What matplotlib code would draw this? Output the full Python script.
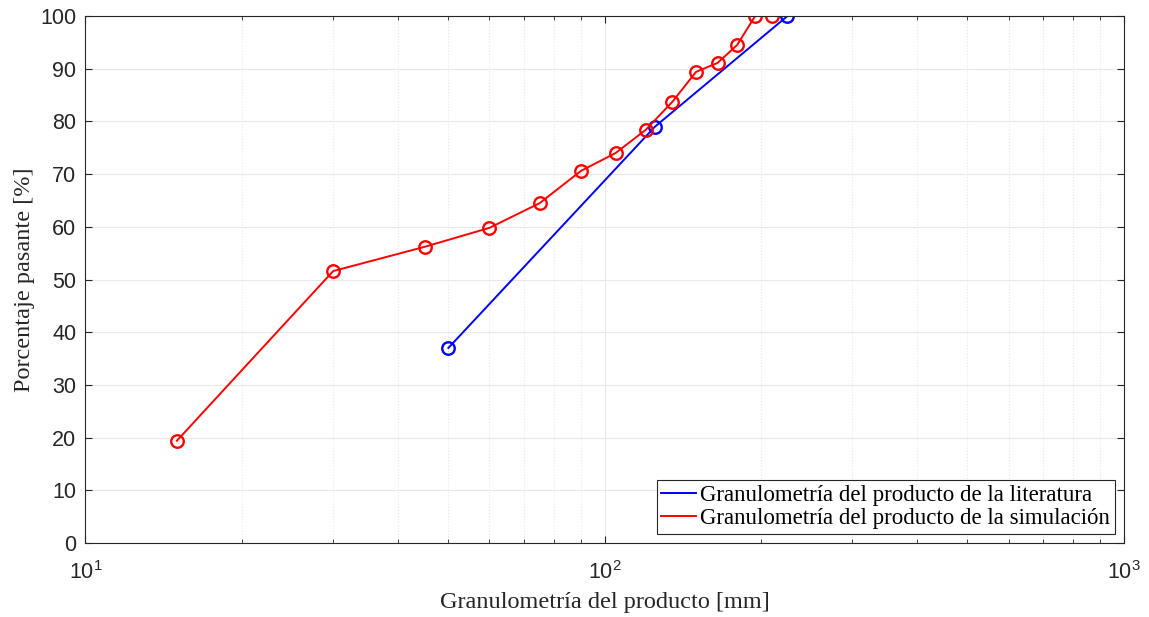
import numpy as np
import matplotlib
matplotlib.use("Agg")
import matplotlib.pyplot as plt
from matplotlib.ticker import LogLocator, NullFormatter, MultipleLocator

# ---------------------------------------------------------------------------
# DATA
# ---------------------------------------------------------------------------
lit_size = [50, 125, 225]          # mm
lit_pass = [37.0, 79.0, 100.0]     # %

sim_size = [15, 30, 45, 60, 75, 90, 105, 120, 135, 150, 165, 180, 195, 210]
sim_pass = [19.4, 51.6, 56.2, 59.8, 64.5, 70.6, 74.0, 78.4, 83.7, 89.4,
            91.1, 94.5, 100.0, 100.0]

LBL_LIT = "Granulometría del producto de la literatura"
LBL_SIM = "Granulometría del producto de la simulación"
SERIF = ["Liberation Serif", "DejaVu Serif"]
SANS = ["Liberation Sans", "DejaVu Sans"]

plt.rcParams["font.family"] = SANS
plt.rcParams["mathtext.fontset"] = "custom"
plt.rcParams["mathtext.rm"] = "Liberation Sans"

fig = plt.figure(figsize=(11.49, 6.17), dpi=100)
ax = fig.add_axes([0.0744, 0.12, 0.9036, 0.854])

ax.plot(lit_size, lit_pass, "-o", color="#0000ff", lw=1.4, ms=9,
        mfc="none", mew=1.7, label=LBL_LIT)
ax.plot(sim_size, sim_pass, "-o", color="#ff0000", lw=1.4, ms=9,
        mfc="none", mew=1.7, label=LBL_SIM)

ax.set_xscale("log")
ax.set_xlim(10, 1000)
ax.set_ylim(0, 100)
ax.yaxis.set_major_locator(MultipleLocator(10))
ax.xaxis.set_major_locator(LogLocator(base=10))
ax.xaxis.set_minor_locator(LogLocator(base=10, subs=np.arange(2, 10)))
ax.xaxis.set_minor_formatter(NullFormatter())

ax.grid(True, which="major", color="#e8e8e8", lw=0.8)
ax.grid(True, which="minor", axis="x", color="#e8e8e8", lw=0.8, ls=":")
ax.set_axisbelow(True)

for s in ax.spines.values():
    s.set_color("#262626")
    s.set_linewidth(0.8)
ax.tick_params(which="both", direction="in", top=True, right=True,
               color="#262626", labelcolor="#262626")
ax.tick_params(which="major", length=5, labelsize=15.5)
ax.tick_params(which="minor", length=3)
ax.tick_params(axis="y", pad=6.5)
ax.tick_params(axis="x", pad=13)

ax.set_xlabel("Granulometría del producto [mm]", family=SERIF, fontsize=17.5,
              color="#262626", labelpad=6)
ax.set_ylabel("Porcentaje pasante [%]", family=SERIF, fontsize=17.5,
              color="#262626", labelpad=4)

leg = ax.legend(loc="lower right", prop={"family": SERIF, "size": 16.5},
                fancybox=False, framealpha=1, edgecolor="#262626",
                handlelength=1.5, handletextpad=0.2, borderpad=0.2,
                labelspacing=0.1, borderaxespad=0.4)
leg.get_frame().set_linewidth(0.8)
for h in leg.legend_handles:
    h.set_marker("")

fig.savefig("out.png", dpi=100)
